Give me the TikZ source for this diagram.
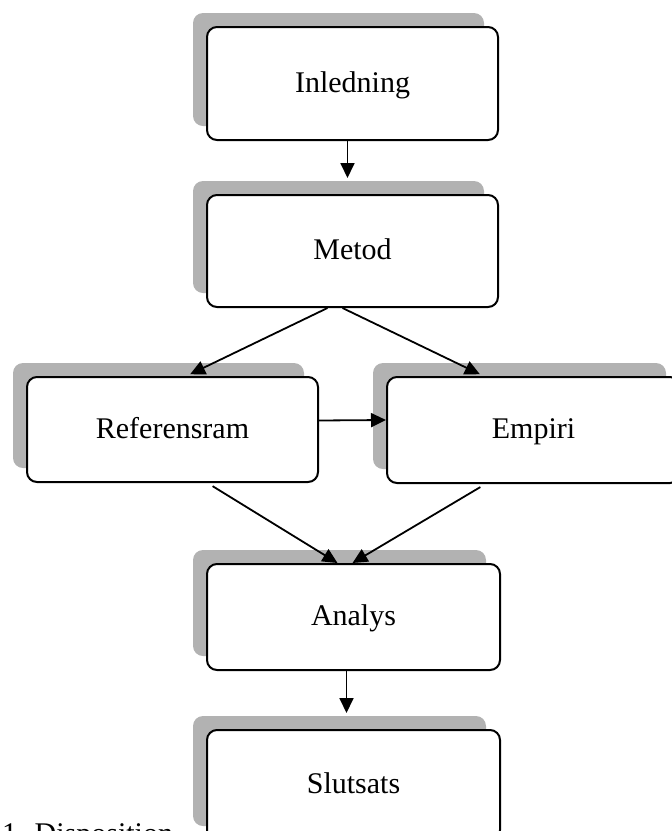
\documentclass[tikz,border=0pt]{standalone}
\usepackage{fontspec}
\setmainfont{Liberation Serif}
\usetikzlibrary{positioning,arrows.meta,shadows}

\tikzset{
  stagebox/.style={draw,line width=2pt,rounded corners=10pt,fill=white,
    font=\fontsize{30}{36}\selectfont,inner sep=0pt,text height=22pt,text depth=5pt,
    drop shadow={shadow xshift=-14pt,shadow yshift=14pt,fill=gray!60,opacity=1}},
  flow/.style={line width=1.8pt,-{Triangle[length=15pt,width=14pt]}}
}

\begin{document}
\begin{tikzpicture}[x=1pt,y=-1pt]
\useasboundingbox (0,0) rectangle (672,831);
% stages of the disposition
\node[stagebox,minimum width=291pt,minimum height=113pt] (inl) at (352.5,83.5) {Inledning};
\node[stagebox,minimum width=291pt,minimum height=112pt] (met) at (352.5,251) {Metod};
\node[stagebox,minimum width=291pt,minimum height=105pt] (ref) at (172.5,429.5) {Referensram};
\node[stagebox,minimum width=293pt,minimum height=106pt] (emp) at (533.5,430) {Empiri};
\node[stagebox,minimum width=293pt,minimum height=106pt] (ana) at (353.5,617) {Analys};
\node[stagebox,minimum width=293pt,minimum height=110pt] (slu) at (353.5,785) {Slutsats};
% connectors
\draw[flow,shorten >=16pt] ([xshift=-5pt]inl.south) -- ([xshift=-5pt]met.north);
\draw[flow,shorten >=4pt] ([xshift=-25pt]met.south) -- ([xshift=14pt]ref.north);
\draw[flow,shorten >=4pt] ([xshift=-10pt]met.south) -- ([xshift=-50pt]emp.north);
\draw[flow] ([yshift=9pt]ref.east) -- ([yshift=10pt]emp.west);
\draw[flow,shorten <=6pt] ([xshift=35pt]ref.south) -- ([xshift=-16pt]ana.north);
\draw[flow,shorten <=6pt] ([xshift=-48pt]emp.south) -- ([xshift=-1pt]ana.north);
\draw[flow,shorten >=16pt] ([xshift=-7pt]ana.south) -- ([xshift=-7pt]slu.north);
% caption, cut by the page edge
\node[anchor=north west,inner sep=0pt,font=\fontsize{30}{36}\selectfont] (cap) at (2,823) {1. Disposition};
\end{tikzpicture}
\end{document}
